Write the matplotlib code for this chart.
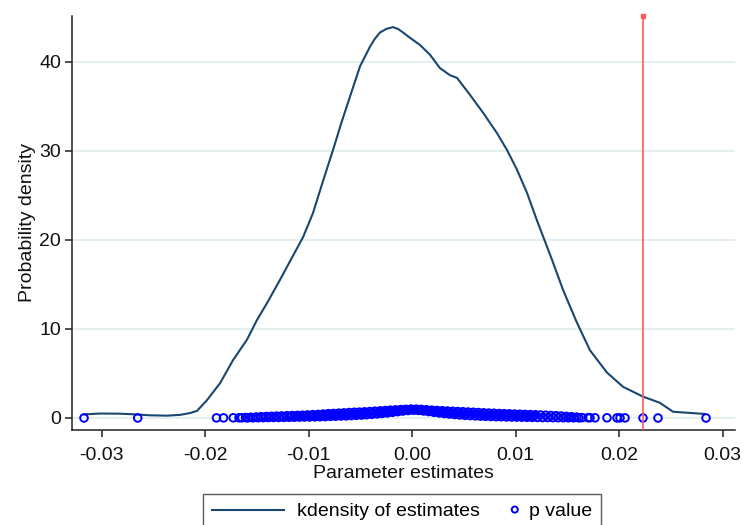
import matplotlib
matplotlib.use('Agg')
import matplotlib.pyplot as plt
from matplotlib.legend_handler import HandlerPathCollection

plt.rcParams['font.family'] = ['Liberation Sans', 'DejaVu Sans']

# ---- data ----
kd_x = [-0.03171, -0.03016, -0.02823, -0.02697, -0.02533, -0.02369, -0.02243, -0.02147,
        -0.02079, -0.01983, -0.01857, -0.01731, -0.01596, -0.01500, -0.01403, -0.01278,
        -0.01162, -0.01055, -0.00959, -0.00862, -0.00765, -0.00683, -0.00601, -0.00504,
        -0.00408, -0.00360, -0.00311, -0.00250, -0.00186, -0.00137, -0.00089, -0.00021,
        0.00075, 0.00172, 0.00268, 0.00365, 0.00433, 0.00558, 0.00684, 0.00819,
        0.00916, 0.01012, 0.01109, 0.01205, 0.01350, 0.01457, 0.01592, 0.01718,
        0.01882, 0.02037, 0.02230, 0.02394, 0.02520, 0.02829]
kd_y = [0.40, 0.50, 0.48, 0.42, 0.30, 0.26, 0.35, 0.55,
        0.80, 2.0, 3.9, 6.5, 8.8, 11.0, 12.9, 15.5,
        18.0, 20.3, 23.0, 26.6, 30.1, 33.2, 36.1, 39.5,
        41.7, 42.6, 43.3, 43.7, 43.9, 43.7, 43.3, 42.7,
        41.9, 40.8, 39.3, 38.5, 38.2, 36.3, 34.3, 32.0,
        30.1, 27.9, 25.3, 22.2, 17.8, 14.4, 10.7, 7.6,
        5.1, 3.5, 2.4, 1.7, 0.7, 0.45]

# p values: isolated points in the tails
p_tail_x = [-0.03171, -0.02652, -0.01891, -0.01823, -0.01729, -0.01673, -0.01645,
            0.01641, 0.01699, 0.01718, 0.01766, 0.01882, 0.01979, 0.02008, 0.02056,
            0.02230, 0.02375, 0.02839]
p_tail_y = [0.00, 0.00, 0.01, 0.01, 0.02, 0.02, 0.03,
            0.04, 0.03, 0.03, 0.02, 0.02, 0.01, 0.01, 0.01,
            0.00, 0.00, 0.00]

# p values: dense cloud, upper edge
p_up_x = [-0.0161, -0.0156, -0.0151, -0.0146, -0.0141, -0.0136, -0.0131, -0.0126,
          -0.0121, -0.0116, -0.0111, -0.0106, -0.0101, -0.0096, -0.0091, -0.0086,
          -0.0081, -0.0076, -0.0071, -0.0066, -0.0061, -0.0056, -0.0051, -0.0046,
          -0.0041, -0.0036, -0.0031, -0.0026, -0.0021, -0.0016, -0.0011, -0.0006,
          -0.0001, 0.0004, 0.0009, 0.0014, 0.0019, 0.0024, 0.0029, 0.0034,
          0.0039, 0.0044, 0.0049, 0.0054, 0.0059, 0.0064, 0.0069, 0.0074,
          0.0079, 0.0084, 0.0089, 0.0094, 0.0099, 0.0104, 0.0109, 0.0114,
          0.0119, 0.0124, 0.0129, 0.0134, 0.0139, 0.0144, 0.0149, 0.0154, 0.0159]
p_up_y = [0.05, 0.08, 0.11, 0.14, 0.17, 0.19, 0.21, 0.23,
          0.25, 0.27, 0.29, 0.31, 0.34, 0.37, 0.40, 0.44,
          0.48, 0.51, 0.54, 0.57, 0.61, 0.64, 0.66, 0.69,
          0.72, 0.76, 0.80, 0.84, 0.88, 0.91, 0.94, 0.97,
          1.00, 0.99, 0.96, 0.92, 0.88, 0.84, 0.81, 0.78,
          0.75, 0.72, 0.70, 0.67, 0.64, 0.61, 0.58, 0.55,
          0.53, 0.50, 0.48, 0.46, 0.44, 0.42, 0.40, 0.38,
          0.36, 0.33, 0.31, 0.28, 0.25, 0.22, 0.18, 0.14, 0.10]

# p values: dense cloud, middle
p_mid_x = [-0.01175, -0.01125, -0.01075, -0.01025, -0.00975, -0.00925, -0.00875, -0.00825,
           -0.00775, -0.00725, -0.00675, -0.00625, -0.00575, -0.00525, -0.00475, -0.00425,
           -0.00375, -0.00325, -0.00275, -0.00225, -0.00175, -0.00125, -0.00075, -0.00025,
           0.00025, 0.00075, 0.00125, 0.00175, 0.00225, 0.00275, 0.00325, 0.00375,
           0.00425, 0.00475, 0.00525, 0.00575, 0.00625, 0.00675, 0.00725, 0.00775,
           0.00825, 0.00875, 0.00925, 0.00975, 0.01025, 0.01075, 0.01125, 0.01175]
p_mid_y = [0.17, 0.19, 0.20, 0.22, 0.24, 0.26, 0.29, 0.32,
           0.34, 0.37, 0.39, 0.42, 0.45, 0.48, 0.51, 0.55,
           0.59, 0.63, 0.68, 0.73, 0.79, 0.84, 0.88, 0.92,
           0.93, 0.90, 0.85, 0.79, 0.73, 0.68, 0.63, 0.59,
           0.55, 0.52, 0.49, 0.46, 0.43, 0.40, 0.37, 0.35,
           0.33, 0.31, 0.29, 0.28, 0.26, 0.25, 0.23, 0.22]

# p values: dense cloud, lower edge
p_lo_x = [-0.0159, -0.0154, -0.0149, -0.0144, -0.0139, -0.0134, -0.0129, -0.0124,
          -0.0119, -0.0114, -0.0109, -0.0104, -0.0099, -0.0094, -0.0089, -0.0084,
          -0.0079, -0.0074, -0.0069, -0.0064, -0.0059, -0.0054, -0.0049, -0.0044,
          -0.0039, -0.0034, -0.0029, -0.0024, -0.0019, -0.0014, -0.0009, -0.0004,
          0.0001, 0.0006, 0.0011, 0.0016, 0.0021, 0.0026, 0.0031, 0.0036,
          0.0041, 0.0046, 0.0051, 0.0056, 0.0061, 0.0066, 0.0071, 0.0076,
          0.0081, 0.0086, 0.0091, 0.0096, 0.0101, 0.0106, 0.0111, 0.0116,
          0.0121, 0.0126, 0.0131, 0.0136, 0.0141, 0.0146, 0.0151, 0.0156, 0.0161]
p_lo_y = [0.01, 0.02, 0.03, 0.04, 0.05, 0.06, 0.06, 0.07,
          0.08, 0.09, 0.10, 0.11, 0.12, 0.13, 0.14, 0.16,
          0.18, 0.20, 0.22, 0.24, 0.27, 0.30, 0.33, 0.37,
          0.41, 0.46, 0.51, 0.57, 0.64, 0.71, 0.78, 0.84,
          0.88, 0.85, 0.79, 0.72, 0.64, 0.57, 0.50, 0.44,
          0.39, 0.34, 0.30, 0.27, 0.24, 0.21, 0.19, 0.17,
          0.15, 0.14, 0.12, 0.11, 0.10, 0.09, 0.08, 0.07,
          0.06, 0.05, 0.05, 0.04, 0.03, 0.03, 0.02, 0.02, 0.01]

observed = 0.02233

x_ticks = [-0.03, -0.02, -0.01, 0.00, 0.01, 0.02, 0.03]
x_tick_labels = ['-0.03', '-0.02', '-0.01', '0.00', '0.01', '0.02', '0.03']
y_ticks = [0, 10, 20, 30, 40]
y_tick_labels = ['0', '10', '20', '30', '40']

legend_labels = ['kdensity of estimates', 'p value']
x_label = 'Parameter estimates'
y_label = 'Probability density'

# ---- plot ----
FS = 14.0
W, H = 742, 525
fig = plt.figure(figsize=(W / 100, H / 100), dpi=100)
ax = fig.add_axes([72 / W, 1 - 430 / H, (735 - 72) / W, (430 - 16) / H])
ax.set_xlim(-0.03287, 0.03119)
ax.set_ylim(-1.35, 45.15)

for g in y_ticks:
    ax.axhline(g, color='#e6eff0', lw=1.5, zorder=0)

line, = ax.plot(kd_x, kd_y, color='#1a476f', lw=1.5, zorder=3,
                solid_joinstyle='round')

px = p_tail_x + p_up_x + p_mid_x + p_lo_x
py = p_tail_y + p_up_y + p_mid_y + p_lo_y
sc = ax.scatter(px, py, s=30, facecolors='none', edgecolors='#0000ff',
                linewidths=1.4, zorder=4)

ax.axvline(observed, color='#ff5a5a', lw=1.2, zorder=5)
ax.plot([observed], [ax.get_ylim()[1]], marker='s', ms=2.5, color='#ff5a5a',
        clip_on=False, zorder=6)

for s in ['top', 'right']:
    ax.spines[s].set_visible(False)
for s in ['left', 'bottom']:
    ax.spines[s].set_color('#222222')
    ax.spines[s].set_linewidth(1.1)

ax.set_xticks(x_ticks)
ax.set_xticklabels(x_tick_labels)
ax.set_yticks(y_ticks)
ax.set_yticklabels(y_tick_labels)
ax.tick_params(axis='both', labelsize=FS, length=5, width=1.1, color='#222222',
               labelcolor='#111111')
ax.tick_params(axis='x', pad=7)
ax.tick_params(axis='y', pad=3)
ax.set_xlabel(x_label, fontsize=FS, labelpad=1, color='#111111')
ax.set_ylabel(y_label, fontsize=FS, labelpad=2, color='#111111')


class RightMarkerHandler(HandlerPathCollection):
    def get_xdata(self, legend, xdescent, ydescent, width, height, fontsize):
        xm = -xdescent + width - 1
        return [xm], [xm]


leg = fig.legend(handles=[line, sc], labels=legend_labels, loc='upper left',
                 bbox_to_anchor=(203 / W, 1 - 494 / H), ncol=2, frameon=True,
                 fancybox=False, edgecolor='#333333', fontsize=FS,
                 handlelength=3.7, handletextpad=0.68, columnspacing=-1.83,
                 borderpad=0.45, borderaxespad=0, scatterpoints=1,
                 scatteryoffsets=[0.5], markerscale=0.8,
                 handler_map={sc: RightMarkerHandler()})
leg.get_frame().set_linewidth(1.0)

fig.savefig('out.png', dpi=100)
